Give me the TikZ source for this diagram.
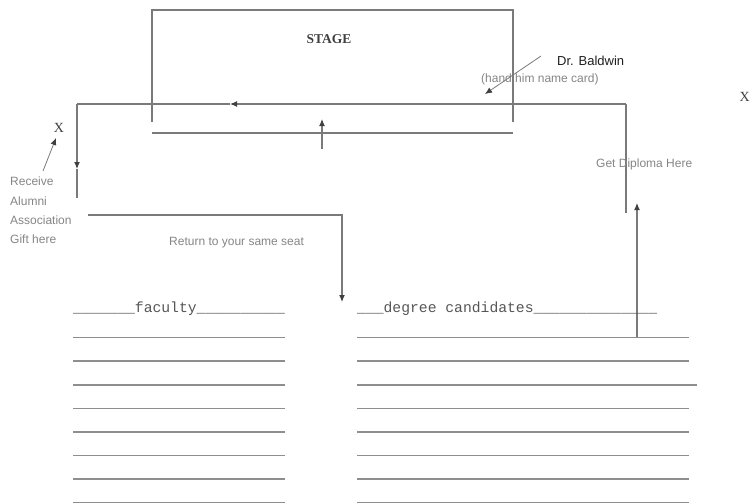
\documentclass[tikz,border=0pt]{standalone}
\usepackage{fontspec}
\setmainfont{Liberation Sans}
\setmonofont{Liberation Mono}
\newfontfamily\stagefont{Liberation Serif}
\usetikzlibrary{arrows.meta}
\usepackage{xcolor}
\definecolor{penGrey}{HTML}{7A7A7A}
\definecolor{rowGrey}{HTML}{8E8E8E}
\definecolor{txtGrey}{HTML}{858585}
\definecolor{inkDark}{HTML}{1E1E1E}
\tikzset{
  wall/.style     = {line width=1.1pt, color=penGrey},
  route/.style    = {line width=1.1pt, color=penGrey},
  flow/.style     = {route, -{Latex[length=7pt,width=6pt,color=inkDark!85]}},
  seat/.style     = {line width=1.6pt, color=rowGrey},
  note/.style     = {font=\fontsize{12}{19.3}\selectfont, color=txtGrey, inner sep=0},
  person/.style   = {font=\fontsize{13}{15}\selectfont, color=inkDark, inner sep=0},
  rowlbl/.style   = {font=\ttfamily\fontsize{14.7}{16}\selectfont, color=inkDark!75, inner sep=0},
  stagelbl/.style = {font=\stagefont\bfseries\fontsize{13.5}{15}\selectfont, color=inkDark!85, inner sep=0},
  xspot/.style    = {font=\stagefont\fontsize{14}{15}\selectfont, color=inkDark!85, inner sep=0},
}
\begin{document}
\begin{tikzpicture}[x=1pt, y=-1pt]
\useasboundingbox (0,0) rectangle (750,503);

% dimensions (pixels of the plan, y down)
\def\stL{152}   % stage left
\def\stR{513}   % stage right
\def\rowA{314}  % first seat row
\def\rowgap{23.6}

% --- stage ---
\draw[wall] (\stL,122) -- (\stL,10) -- (\stR,10) -- (\stR,122);
\draw[wall] (\stL,133) -- (\stR,133);
\node[stagelbl, anchor=base] (stage) at (329,44) {STAGE};

% --- walk across the stage ---
\coordinate (rTop)  at (626,104);
\coordinate (rFoot) at (626,213);
\coordinate (aTop)  at (230,104);
\coordinate (lTop)  at (77,104);
\coordinate (aLeft) at (77,169);
\coordinate (lFoot) at (77,198);
\draw[route] (rFoot) -- (rTop);
\draw[flow]  (rTop) -- (aTop);
\draw[route] (aTop) -- (lTop);
\draw[flow]  (lTop) -- (aLeft);
\draw[route] (aLeft) -- (lFoot);

% up from the candidates
\coordinate (upFoot) at (637,337);
\coordinate (upHead) at (637,203);
\draw[flow] (upFoot) -- (upHead);

% small arrow to the stage front
\coordinate (frFoot) at (322,149);
\coordinate (frHead) at (322,119);
\draw[flow] (frFoot) -- (frHead);

% back to the seats
\coordinate (bkStart) at (88,215);
\coordinate (bkTurn)  at (342,215);
\coordinate (bkEnd)   at (342,302);
\draw[flow] (bkStart) -- (bkTurn) -- (bkEnd);

% --- labels ---
\node[person, anchor=base west] (baldwin) at (557,66) {Dr. Baldwin};
\node[note, anchor=base west] (card) at (481,83) {(hand him name card)};
\coordinate (bwFrom) at (541,56);
\coordinate (bwTo)   at (485,94);
\draw[flow, line width=0.8pt] (bwFrom) -- (bwTo);

\node[note, anchor=base west] (diploma) at (596,167) {Get Diploma Here};
\node[note, anchor=base west] (seatback) at (169,245) {Return to your same seat};

\node[note, anchor=north west, align=left] (gift) at (10,177)
  {Receive\\Alumni\\Association\\Gift here};
\node[xspot] (xLeft) at (59,128) {X};
\coordinate (xFrom) at (43,171);
\coordinate (xTo)   at (56,138);
\draw[flow, line width=0.8pt] (xFrom) -- (xTo);
\node[xspot, anchor=east] (xRight) at (750,97) {X};

% --- seats ---
\node[rowlbl, anchor=base west] (faculty) at (73,312)
  {\_\_\_\_\_\_\_faculty\_\_\_\_\_\_\_\_\_\_};
\node[rowlbl, anchor=base west] (degree) at (357,312)
  {\_\_\_degree candidates\_\_\_\_\_\_\_\_\_\_\_\_\_\_};

\foreach \k in {1,...,8}
  \draw[seat] (73,{\rowA+\k*\rowgap}) -- (285,{\rowA+\k*\rowgap});
\foreach \k/\e in {1/689,2/689,3/697,4/689,5/689,6/689,7/689,8/689}
  \draw[seat] (357,{\rowA+\k*\rowgap}) -- (\e,{\rowA+\k*\rowgap});

\end{tikzpicture}
\end{document}
